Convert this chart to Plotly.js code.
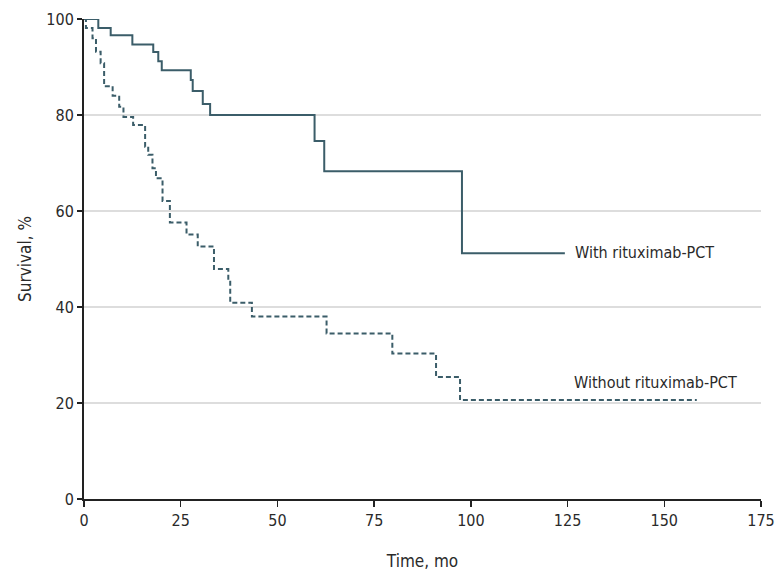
<!DOCTYPE html>
<html>
<head>
<meta charset="utf-8">
<script src="https://cdn.plot.ly/plotly-3.0.1.min.js"></script>
<style>html,body{margin:0;padding:0;background:#fff;}#chart{width:782px;height:584px;}</style>
</head>
<body>
<div id="chart"></div>
<script>
// Kaplan-Meier survival curves
var withTime = [0, 3.7, 6.9, 12.5, 17.9, 19.2, 20.1, 27.6, 28.1, 30.7, 32.6, 59.6, 62.1, 97.7, 124.3];
var withSurv = [100, 98.1, 96.6, 94.7, 93.1, 91.2, 89.3, 87.3, 85.0, 82.3, 80.0, 74.6, 68.3, 51.2, 51.2];

var withoutTime = [0, 0.5, 2.2, 3.1, 4.3, 5.2, 7.4, 9.1, 10.2, 12.7, 15.8, 16.6, 17.7, 18.6, 20.3, 22.2, 26.5, 29.4, 33.6, 37.3, 37.8, 43.4, 62.7, 79.7, 91.0, 97.2, 158.4];
var withoutSurv = [100, 98.1, 96.0, 93.2, 90.8, 86.0, 84.0, 81.7, 79.6, 77.9, 73.4, 71.7, 68.9, 66.8, 62.1, 57.6, 55.1, 52.6, 47.9, 45.5, 40.9, 38.0, 34.5, 30.3, 25.4, 20.6, 20.6];

var labelWith = "With rituximab-PCT";
var labelWithout = "Without rituximab-PCT";
var xTicks = [0, 25, 50, 75, 100, 125, 150, 175];
var yTicks = [0, 20, 40, 60, 80, 100];

var lineColor = "#3b5d69";
var textColor = "#2a2a2a";
var fontFam = "'Liberation Sans Narrow', 'DejaVu Sans Condensed', 'Arial Narrow', sans-serif";

var traces = [
  {x: withTime, y: withSurv, mode: "lines", line: {shape: "hv", color: lineColor, width: 2}, name: labelWith, hoverinfo: "x+y"},
  {x: withoutTime, y: withoutSurv, mode: "lines", line: {shape: "hv", color: lineColor, width: 2, dash: "5px,3px"}, name: labelWithout, hoverinfo: "x+y"}
];

var layout = {
  width: 782, height: 584,
  margin: {l: 84, r: 21, t: 19, b: 85},
  paper_bgcolor: "#fff", plot_bgcolor: "#fff",
  showlegend: false,
  font: {family: fontFam, size: 16, color: textColor},
  xaxis: {
    range: [0, 175], tickvals: xTicks, ticktext: xTicks.map(String),
    showgrid: false, zeroline: false, showline: true, linecolor: "#222", linewidth: 2,
    ticks: "outside", ticklen: 6, tickwidth: 1.5, tickcolor: "#222",
    tickfont: {family: fontFam, size: 16, color: textColor},
    title: {text: "Time, mo", font: {family: fontFam, size: 17, color: textColor}, standoff: 26}
  },
  yaxis: {
    range: [0, 100], tickvals: yTicks, ticktext: yTicks.map(String),
    showgrid: true, gridcolor: "#dddddd", gridwidth: 1.5, zeroline: false,
    showline: true, linecolor: "#222", linewidth: 2,
    ticks: "outside", ticklen: 5, tickwidth: 1.5, tickcolor: "#222",
    tickfont: {family: fontFam, size: 16, color: textColor},
    title: {text: "Survival, %", font: {family: fontFam, size: 17, color: textColor}, standoff: 10}
  },
  annotations: [
    {x: 126.3, y: 51.4, xref: "x", yref: "y", text: labelWith, showarrow: false, xanchor: "left", yanchor: "middle", font: {family: fontFam, size: 16, color: textColor}},
    {x: 126.2, y: 24.2, xref: "x", yref: "y", text: labelWithout, showarrow: false, xanchor: "left", yanchor: "middle", font: {family: fontFam, size: 16, color: textColor}}
  ]
};

Plotly.newPlot("chart", traces, layout, {displayModeBar: false, staticPlot: true});
</script>
</body>
</html>
